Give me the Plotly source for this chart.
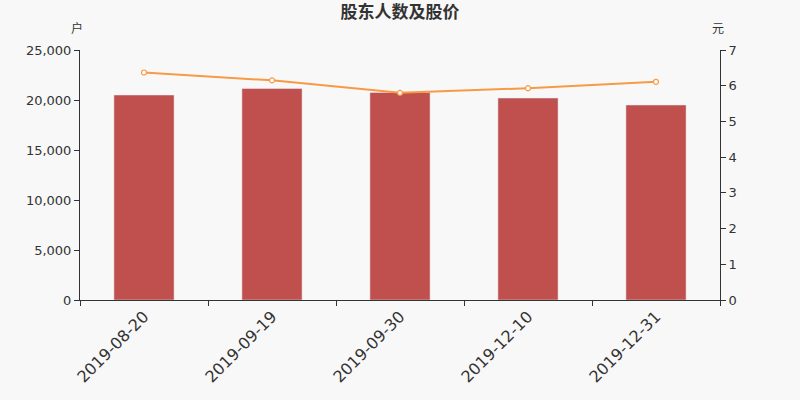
import plotly.graph_objects as go

dates = ["2019-08-20", "2019-09-19", "2019-09-30", "2019-12-10", "2019-12-31"]
holders = [20500, 21150, 20750, 20200, 19500]
price = [6.37, 6.15, 5.80, 5.93, 6.11]

fig = go.Figure()
fig.add_trace(go.Bar(x=dates, y=holders, marker_color="#c0504d", width=0.47, name="户数"))
fig.add_trace(go.Scatter(x=dates, y=price, yaxis="y2", mode="lines+markers",
                         line=dict(color="#f79a45", width=2),
                         marker=dict(size=5, color="white", line=dict(color="#f79a45", width=1.2)),
                         name="股价"))

fig.update_layout(
    width=800, height=400,
    paper_bgcolor="#f8f8f8", plot_bgcolor="#f8f8f8",
    margin=dict(l=80, r=80, t=50, b=100),
    showlegend=False,
    font=dict(family="DejaVu Sans", color="#333"),
    title=dict(text="<b>股东人数及股价</b>", x=0.5, y=0.97, yanchor="middle",
               font=dict(size=17, family="Noto Sans CJK SC", color="#333")),
    xaxis=dict(type="category", tickson="boundaries", ticks="outside", ticklen=5,
               tickangle=-45, tickfont=dict(size=16), showgrid=False,
               showline=True, linecolor="#333", tickcolor="#333"),
    yaxis=dict(range=[0, 25000], dtick=5000, tickformat=",", showgrid=False,
               showline=True, linecolor="#333", ticks="outside", ticklen=5, tickcolor="#333",
               tickfont=dict(size=13), zeroline=False),
    yaxis2=dict(range=[0, 7], dtick=1, overlaying="y", side="right", showgrid=False,
                showline=True, linecolor="#333", ticks="outside", ticklen=5, tickcolor="#333",
                tickfont=dict(size=13), zeroline=False),
    annotations=[
        dict(text="户", xref="paper", yref="paper", x=-0.005, y=1.088, xanchor="center",
             yanchor="middle", showarrow=False, font=dict(size=12, family="Noto Sans CJK SC")),
        dict(text="元", xref="paper", yref="paper", x=0.997, y=1.088, xanchor="center",
             yanchor="middle", showarrow=False, font=dict(size=12, family="Noto Sans CJK SC")),
    ],
)

fig.write_html("out.html", config={"displayModeBar": False},
               post_script="document.body.style.margin='0';")
